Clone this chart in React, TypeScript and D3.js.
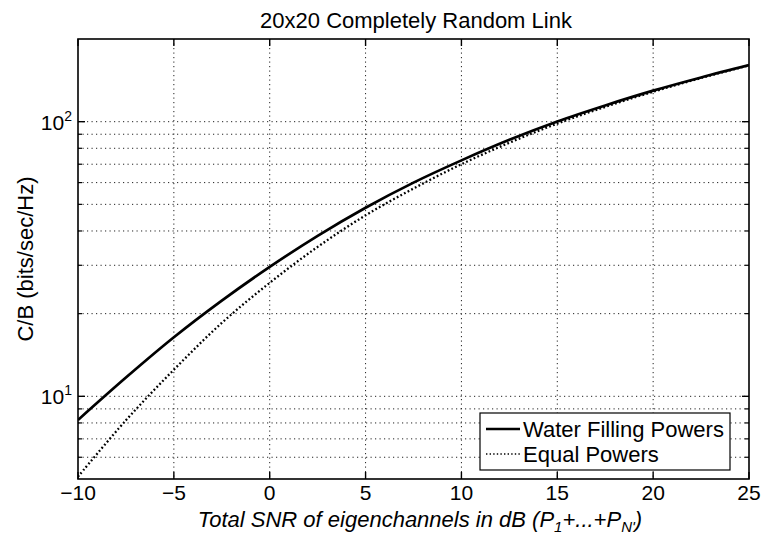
import React from "react";
import * as d3 from "d3";

const snrDb = [-10,-7.5,-5,-2.5,0,2.5,5,7.5,10,12.5,15,17.5,20,22.5,25];
const waterFilling = [8.2,11.7,16.4,22.3,29.6,38.4,48.6,60.0,72.3,85.9,100.2,114.6,129.7,144.9,160.6];
const equalPowers = [5.1,8.18,12.5,18.5,25.9,35.0,45.6,57.1,70.0,83.8,98.4,113.2,128.5,144.2,160.3];
const xTicks = [-10,-5,0,5,10,15,20,25];
const yMajor = [10,100];
const yMinor = [6,7,8,9,20,30,40,50,60,70,80,90];
const legendLabels = ["Water Filling Powers", "Equal Powers"];
const titleText = "20x20 Completely Random Link";
const yLabel = "C/B (bits/sec/Hz)";

const W = 761, H = 538;
const L = 78, R = 749, T = 39, B = 479;
const FONT = "'Liberation Sans', Arial, Helvetica, sans-serif";

export default function App() {
  const x = d3.scaleLinear().domain([-10, 25]).range([L, R]);
  const y = d3.scaleLog().domain([5, 200]).range([B, T]);
  const line = (vals: number[]) =>
    d3.line<number>().x((_, i) => x(snrDb[i])).y((v) => y(v)).curve(d3.curveCatmullRom.alpha(0.5))(vals) || "";
  const gridStyle = { stroke: "#222", strokeWidth: 1, strokeDasharray: "1.2,3.3" };
  const allY = [...yMinor, ...yMajor];
  return (
    <svg width={W} height={H} style={{ position: "absolute", left: 0, top: 0, background: "#fff" }} fontFamily={FONT}>
      <rect x={0} y={0} width={W} height={H} fill="#fff" />
      {xTicks.filter((t) => t > -10 && t < 25).map((t) => (
        <line key={"gx" + t} x1={x(t)} x2={x(t)} y1={T} y2={B} {...gridStyle} />
      ))}
      {allY.map((v) => (
        <line key={"gy" + v} x1={L} x2={R} y1={y(v)} y2={y(v)} {...gridStyle} />
      ))}
      <clipPath id="clip"><rect x={L} y={T} width={R - L} height={B - T} /></clipPath>
      <g clipPath="url(#clip)">
        <path d={line(equalPowers)} fill="none" stroke="#000" strokeWidth={2.3} strokeDasharray="1.8,2.3" />
        <path d={line(waterFilling)} fill="none" stroke="#000" strokeWidth={2.7} />
      </g>
      <rect x={L} y={T} width={R - L} height={B - T} fill="none" stroke="#000" strokeWidth={1.6} />
      {xTicks.map((t) => (
        <g key={"xt" + t}>
          <line x1={x(t)} x2={x(t)} y1={B} y2={B - 7} stroke="#000" strokeWidth={1.4} />
          <line x1={x(t)} x2={x(t)} y1={T} y2={T + 7} stroke="#000" strokeWidth={1.4} />
          <text x={x(t)} y={500} textAnchor="middle" fontSize={21}>{t < 0 ? "\u2212" + Math.abs(t) : String(t)}</text>
        </g>
      ))}
      {yMinor.map((v) => (
        <g key={"ymt" + v}>
          <line x1={L} x2={L + 4} y1={y(v)} y2={y(v)} stroke="#000" strokeWidth={1.2} />
          <line x1={R} x2={R - 4} y1={y(v)} y2={y(v)} stroke="#000" strokeWidth={1.2} />
        </g>
      ))}
      {yMajor.map((v) => (
        <g key={"yt" + v}>
          <line x1={L} x2={L + 7} y1={y(v)} y2={y(v)} stroke="#000" strokeWidth={1.4} />
          <line x1={R} x2={R - 7} y1={y(v)} y2={y(v)} stroke="#000" strokeWidth={1.4} />
          <text x={72} y={y(v) + 8} textAnchor="end" fontSize={21}>
            10<tspan dy={-9} fontSize={14}>{String(Math.round(Math.log10(v)))}</tspan>
          </text>
        </g>
      ))}
      <text x={416} y={28} textAnchor="middle" fontSize={22}>{titleText}</text>
      <text transform={`translate(33,259) rotate(-90)`} textAnchor="middle" fontSize={22}>{yLabel}</text>
      <text x={420} y={527} textAnchor="middle" fontSize={22} fontStyle="italic">
        Total SNR of eigenchannels in dB (P<tspan dy={5} fontSize={15}>1</tspan><tspan dy={-5}>+...+P</tspan><tspan dy={5} fontSize={15}>N'</tspan><tspan dy={-5}>)</tspan>
      </text>
      <g>
        <rect x={480} y={413} width={250} height={57} fill="#fff" stroke="#000" strokeWidth={1.2} />
        <line x1={486} x2={520} y1={429} y2={429} stroke="#000" strokeWidth={2.4} />
        <line x1={486} x2={520} y1={454} y2={454} stroke="#000" strokeWidth={1.6} strokeDasharray="1.4,2.2" />
        <text x={523} y={437} fontSize={22}>{legendLabels[0]}</text>
        <text x={523} y={462} fontSize={22}>{legendLabels[1]}</text>
      </g>
    </svg>
  );
}
